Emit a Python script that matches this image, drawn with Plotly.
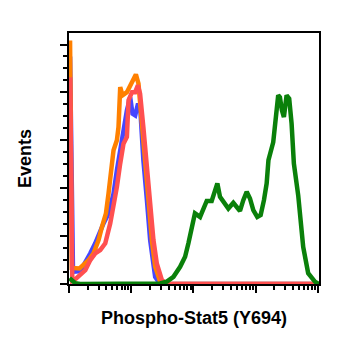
import plotly.graph_objects as go

# ---- data (x = fluorescence intensity, y = events) ----
blue_x = [1.04, 1.16, 1.52, 1.95, 2.20, 2.64, 3.18, 3.59, 4.32, 5.20, 5.89, 6.66, 7.52, 8.53, 9.64,
          10.5, 11.6, 12.7, 13.9, 14.5, 15.7, 17.9, 20.2, 24.3, 27.4, 31.5, 10000]
blue_y = [95, 5.1, 5.4, 10.0, 12.8, 17.0, 22.5, 25.3, 29.5, 37.8, 47.5, 55.8, 65.5, 72.5, 78.0,
          71.1, 70.4, 74.6, 74.6, 64.2, 51.7, 35.0, 18.3, 3.0, 1.0, 0, 0]

orange_x = [1.04, 1.11, 1.48, 1.83, 2.06, 2.48, 2.99, 3.39, 3.93, 4.32, 4.78, 5.20, 5.89, 6.25, 6.66,
            7.25, 8.53, 9.64, 10.9, 11.9, 13.1, 14.9, 16.8, 19.0, 21.5, 24.3, 29.2, 36.5, 10000]
orange_y = [101.7, 6.7, 6.5, 8.6, 10.0, 12.8, 18.3, 23.9, 29.5, 37.8, 48.9, 55.8, 60.0, 65.5, 82.2,
            78.8, 80.1, 82.5, 85.0, 87.5, 83.6, 68.3, 51.7, 35.0, 18.3, 7.2, 1.0, 0, 0]

red_x = [1.04, 1.13, 1.23, 1.52, 1.83, 2.20, 2.64, 3.18, 3.83, 4.60, 5.20, 5.89, 6.66, 7.52, 8.53,
         9.06, 10.3, 11.6, 12.8, 13.9, 15.7, 17.9, 20.2, 22.8, 25.8, 31.1, 37.8, 10000]
red_y = [86.3, 1.25, 1.7, 3.75, 5.8, 10.0, 12.8, 14.2, 17.0, 25.3, 32.2, 40.5, 50.3, 58.6, 61.4,
         76.7, 80.1, 80.1, 82.9, 79.5, 65.5, 48.9, 32.2, 18.3, 8.6, 1.7, 0, 0]

green_x = [1.02, 1.26, 1.52, 24.3, 29.2, 37.4, 47.8, 61.2, 73.6, 83.2, 94.2, 106, 128, 145, 164,
           197, 223, 243, 268, 303, 365, 439, 508, 562, 635, 720, 813, 919, 1065, 1208, 1364,
           1508, 1611, 1923, 2313, 2464, 2652, 2856, 3155, 3473, 3796, 4130, 4846, 5834, 7015,
           8985, 10420]
green_y = [2.4, 0.3, 0, 0, 0.2, 1.0, 3.0, 7.2, 11.4, 17.0, 23.9, 29.5, 28.0, 31.5, 34.7,
           34.7, 39.2, 42.0, 36.4, 34.3, 31.5, 33.9, 32.2, 30.5, 35.0, 38.5, 35.7, 30.8, 28.0, 28.8, 35.0,
           42.0, 51.7, 59.2, 78.8, 78.0, 72.5, 69.7, 78.8, 77.4, 67.0, 50.3, 37.1, 15.5, 4.5,
           1.0, 0]

x_major = [1, 10, 100, 1000, 10000]
x_minor = [m * d for d in [1, 10, 100, 1000] for m in range(2, 10)]

x_title = "Phospho-Stat5 (Y694)"
y_title = "Events"

series = [
    (blue_x, blue_y, "#4646ff"),
    (orange_x, orange_y, "#ff8000"),
    (red_x, red_y, "#ff5050"),
    (green_x, green_y, "#0a800a"),
]

fig = go.Figure()
for xs, ys, col in series:
    fig.add_trace(go.Scatter(x=xs, y=ys, mode="lines",
                             line=dict(color=col, width=4.5), showlegend=False,
                             hoverinfo="skip"))

title_font = dict(family="Liberation Sans, Arial, sans-serif", size=18, color="black", weight="bold")

fig.update_layout(
    width=340, height=342,
    margin=dict(l=69, r=21, t=33, b=58),
    paper_bgcolor="white", plot_bgcolor="white",
    xaxis=dict(
        type="log", range=[0, 4.02],
        tickmode="array", tickvals=x_major, showticklabels=False,
        ticks="outside", ticklen=7, tickwidth=2, tickcolor="black",
        minor=dict(tickmode="array", tickvals=x_minor, ticks="outside",
                   ticklen=4, tickwidth=1.5, tickcolor="black", showgrid=False),
        showline=True, linecolor="black", linewidth=2, mirror=True,
        showgrid=False, zeroline=False,
        title=dict(text=x_title, font=title_font, standoff=19),
        automargin=False,
    ),
    yaxis=dict(
        range=[0, 104.8], tickmode="linear", tick0=0, dtick=20, showticklabels=False,
        ticks="outside", ticklen=7, tickwidth=2, tickcolor="black",
        minor=dict(dtick=5, ticks="outside", ticklen=4, tickwidth=1.5,
                   tickcolor="black", showgrid=False),
        showline=True, linecolor="black", linewidth=2, mirror=True,
        showgrid=False, zeroline=False,
        title=dict(text=y_title, font=title_font, standoff=24),
        automargin=False,
    ),
)

fig.write_html("out.html")
